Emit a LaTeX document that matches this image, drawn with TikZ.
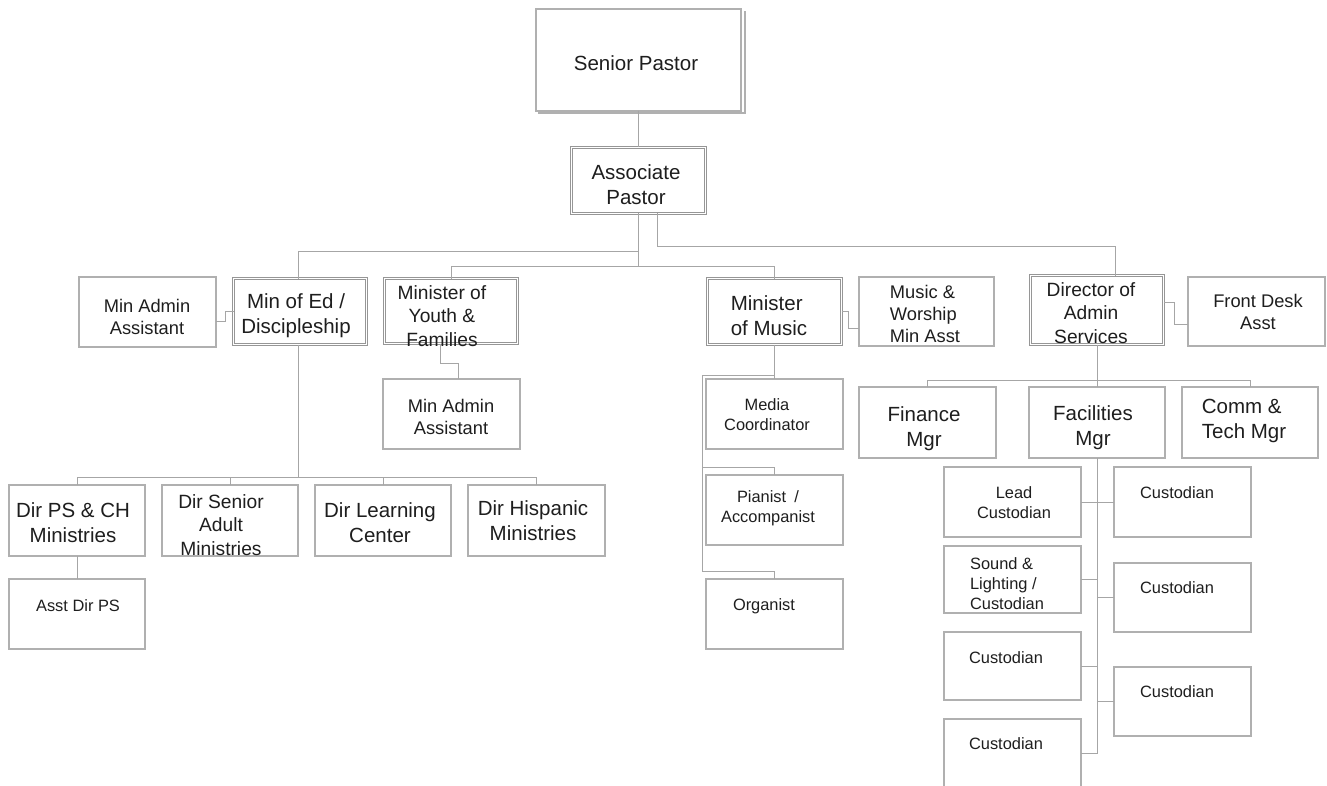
\documentclass[tikz,border=0pt]{standalone}
\usepackage{fontspec}
\setmainfont{Liberation Sans}
\definecolor{linec}{HTML}{A6A6A6}
\definecolor{boxc}{HTML}{B0B0B0}
\definecolor{dboxc}{HTML}{969696}
\definecolor{txtc}{HTML}{1E1E1E}
\begin{document}
\begin{tikzpicture}[x=1pt,y=-1pt,
  bx/.style={draw=boxc, line width=1.1pt, inner sep=0, outer sep=0, anchor=north west},
  dbx/.style={draw=dboxc, line width=1pt, double=white, double distance=1.6pt, inner sep=0, outer sep=0, anchor=north west},
  ln/.style={draw=linec, line width=1pt},
  tx/.style={inner sep=0, text=txtc, align=center},
  big/.style={tx, font=\fontsize{20.5}{25}\selectfont},
  meda/.style={tx, font=\fontsize{19.2}{23.5}\selectfont},
  medb/.style={tx, font=\fontsize{18.3}{22}\selectfont},
  sml/.style={tx, font=\fontsize{16.4}{20}\selectfont}]
\fill[white] (0,0) rectangle (1327,786);
\useasboundingbox (0,0) rectangle (1327,786);

% boxes
\node[bx, minimum width=205, minimum height=102] (sp) at (536,9) {};
\draw[boxc, line width=1.1pt] (538,113) -| (745,11);
\node[dbx, minimum width=134, minimum height=66] (ap) at (571.5,147.5) {};
\node[bx, minimum width=137, minimum height=70] (mas1) at (79,277) {};
\node[dbx, minimum width=133, minimum height=66] (med) at (233.5,278.5) {};
\node[dbx, minimum width=133, minimum height=65] (myf) at (384.5,278.5) {};
\node[bx, minimum width=137, minimum height=70] (mas2) at (383,379) {};
\node[dbx, minimum width=134, minimum height=66] (mom) at (707.5,278.5) {};
\node[bx, minimum width=135, minimum height=69] (mwma) at (859,277) {};
\node[dbx, minimum width=133, minimum height=69] (doa) at (1030.5,275.5) {};
\node[bx, minimum width=137, minimum height=69] (fda) at (1188,277) {};
\node[bx, minimum width=136, minimum height=71] (dps) at (9,485) {};
\node[bx, minimum width=136, minimum height=71] (dsa) at (162,485) {};
\node[bx, minimum width=136, minimum height=71] (dlc) at (315,485) {};
\node[bx, minimum width=137, minimum height=71] (dhm) at (468,485) {};
\node[bx, minimum width=136, minimum height=70] (adps) at (9,579) {};
\node[bx, minimum width=137, minimum height=70] (mc) at (706,379) {};
\node[bx, minimum width=137, minimum height=70] (pa) at (706,475) {};
\node[bx, minimum width=137, minimum height=70] (org) at (706,579) {};
\node[bx, minimum width=137, minimum height=71] (fin) at (859,387) {};
\node[bx, minimum width=136, minimum height=71] (fac) at (1029,387) {};
\node[bx, minimum width=136, minimum height=71] (ctm) at (1182,387) {};
\node[bx, minimum width=137, minimum height=70] (lc) at (944,467) {};
\node[bx, minimum width=137, minimum height=67] (slc) at (944,546) {};
\node[bx, minimum width=137, minimum height=68] (cl3) at (944,632) {};
\node[bx, minimum width=137, minimum height=69] (cl4) at (944,719) {};
\node[bx, minimum width=137, minimum height=70] (cr1) at (1114,467) {};
\node[bx, minimum width=137, minimum height=69] (cr2) at (1114,563) {};
\node[bx, minimum width=137, minimum height=69] (cr3) at (1114,667) {};

% texts
\node[big] (t-sp) at (636,63) {Senior Pastor};
\node[big] (t-ap) at (636,185) {Associate\\Pastor};
\node[medb] (t-mas1) at (147,317) {Min Admin\\Assistant};
\node[big] (t-med) at (296,316) {Min of Ed /\\Discipleship};
\node[meda] (t-myf) at (442,316) {Minister of\\Youth \&\\Families};
\node[medb] (t-mas2) at (451,417) {Min Admin\\Assistant};
\node[big, align=left] (t-mom) at (769,316) {Minister\\of Music};
\node[medb, align=left] (t-mwma) at (925,314) {Music \&\\Worship\\Min Asst};
\node[meda] (t-doa) at (1091,313) {Director of\\Admin\\Services};
\node[medb] (t-fda) at (1258,312) {Front Desk\\Asst};
\node[big] (t-dps) at (73,523) {Dir PS \& CH\\Ministries};
\node[meda] (t-dsa) at (221,525) {Dir Senior\\Adult\\Ministries};
\node[big] (t-dlc) at (380,523) {Dir Learning\\Center};
\node[big] (t-dhm) at (533,521) {Dir Hispanic\\Ministries};
\node[sml] (t-adps) at (78,606) {Asst Dir PS};
\node[sml] (t-mc) at (767,415) {Media\\Coordinator};
\node[sml] (t-pa) at (768,508) {Pianist\enspace/\\Accompanist};
\node[sml] (t-org) at (764,606) {Organist};
\node[big] (t-fin) at (924,429) {Finance\\Mgr};
\node[big] (t-fac) at (1093,428) {Facilities\\Mgr};
\node[big, align=left] (t-ctm) at (1244,421) {Comm \&\\Tech Mgr};
\node[sml] (t-lc) at (1014,503) {Lead\\Custodian};
\node[sml, align=left] (t-slc) at (1007,584) {Sound \&\\Lighting /\\Custodian};
\node[sml] (t-cl3) at (1006,658) {Custodian};
\node[sml] (t-cl4) at (1006,744) {Custodian};
\node[sml] (t-cr1) at (1177,493) {Custodian};
\node[sml] (t-cr2) at (1177,588) {Custodian};
\node[sml] (t-cr3) at (1177,692) {Custodian};

% connectors
\draw[ln] (sp.south) -- (ap.north);
\draw[ln] (ap.south) -- ++(0,53.5) coordinate (apB);
\draw[ln] (ap.south) ++(0,38.5) -| ([xshift=-2]med.north);
\draw[ln] (apB) -| (myf.north);
\draw[ln] (apB) -| (mom.north);
\draw[ln] ([xshift=18.5]ap.south) -- ++(0,33.5) -| ([xshift=18]doa.north);
\draw[ln] (med.west) -- ++(-8,0) |- ([yshift=-9pt]mas1.east);
\draw[ln] ([xshift=-11]myf.south) -- ++(0,19.5) -| ([xshift=6.5]mas2.north);
\draw[ln] ([xshift=-2]med.south) -- ++(0,132.5);
\draw[ln] (dps.north) -- ++(0,-8) -| (dhm.north);
\draw[ln] (dsa.north) -- ++(0,-8);
\draw[ln] (dlc.north) -- ++(0,-8);
\draw[ln] (dps.south) -- (adps.north);
\draw[ln] (mom.east) -- ++(7,0) |- ([yshift=-16.5pt]mwma.west);
\draw[ln] (mom.south) -- (mc.north);
\coordinate (ms1) at (702,375);
\coordinate (ms2) at (702,467);
\coordinate (ms3) at (702,571);
\draw[ln] (mc.north |- ms1) -- (ms1) -- (ms3) -| (org.north);
\draw[ln] (ms2) -| (pa.north);
\draw[ln] ([yshift=8pt]doa.east) -- ++(10.5,0) |- ([yshift=-12.5pt]fda.west);
\draw[ln] (doa.south) -- (fac.north);
\draw[ln] (fin.north) -- ++(0,-7) -| (ctm.north);
\coordinate (fs) at (fac.south |- cl4.east);
\draw[ln] (fac.south) -- (fs) -- (cl4.east);
\draw[ln] (lc.east) -- (cr1.west);
\draw[ln] (slc.east) -- (slc.east -| fs);
\draw[ln] (cr2.west) -- (cr2.west -| fs);
\draw[ln] (cl3.east) -- (cl3.east -| fs);
\draw[ln] (cr3.west) -- (cr3.west -| fs);
\end{tikzpicture}
\end{document}
